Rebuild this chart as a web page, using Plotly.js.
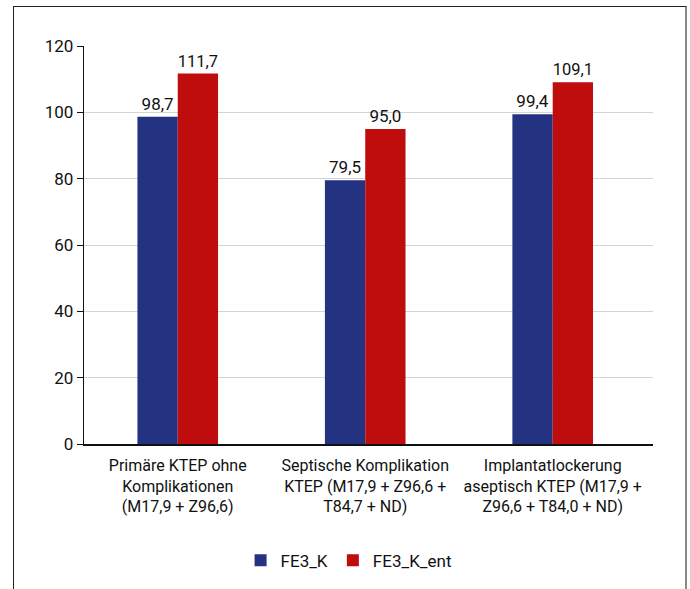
<!DOCTYPE html>
<html>
<head>
<meta charset="utf-8">
<script src="https://cdn.plot.ly/plotly-3.0.1.min.js"></script>
<style>
  html, body { margin: 0; padding: 0; background: #fff; }
  #wrap { position: relative; width: 690px; height: 589px; }
  #frame {
    position: absolute; left: 13px; top: 6px; width: 671px; height: 600px;
    border-left: 1px solid #222; border-top: 1px solid #222; border-right: 2px solid #888;
    pointer-events: none;
  }
  #chart { position: absolute; left: 0; top: 0; width: 690px; height: 589px; }
</style>
</head>
<body>
<div id="wrap">
  <div id="chart"></div>
  <div id="frame"></div>
</div>
<script>
// Kategorien (Diagnosegruppen) und Werte beider Reihen
const categories = [
  'Primäre KTEP ohne<br>Komplikationen<br>(M17,9 + Z96,6)',
  'Septische Komplikation<br>KTEP (M17,9 + Z96,6 +<br>T84,7 + ND)',
  'Implantatlockerung<br>aseptisch KTEP (M17,9 +<br>Z96,6 + T84,0 + ND)'
];
const seriesNames = ['FE3_K', 'FE3_K_ent'];
const fe3K = [98.7, 79.5, 99.4];
const fe3KEnt = [111.7, 95.0, 109.1];
const yTicks = [0, 20, 40, 60, 80, 100, 120];

const FONT = 'Roboto, "Liberation Sans", Arial, sans-serif';

function barTrace(name, values, color) {
  return {
    type: 'bar',
    name: name,
    x: categories,
    y: values,
    marker: { color: color, line: { width: 0 } },
    texttemplate: '%{y:.1f}',
    textposition: 'outside',
    cliponaxis: false,
    textfont: { family: FONT, size: 17, color: '#111' },
    hoverinfo: 'skip'
  };
}

const data = [
  barTrace(seriesNames[0], fe3K, '#243282'),
  barTrace(seriesNames[1], fe3KEnt, '#bf0d0e')
];

const layout = {
  width: 690,
  height: 589,
  margin: { l: 84, r: 37, t: 46, b: 144 },
  paper_bgcolor: '#fff',
  plot_bgcolor: '#fff',
  separators: ',.',
  font: { family: FONT, size: 16, color: '#111' },
  barmode: 'group',
  bargap: 0.57,
  bargroupgap: 0,
  showlegend: true,
  legend: {
    orientation: 'h',
    x: 0.465, xanchor: 'center',
    y: -0.29, yanchor: 'middle',
    font: { family: FONT, size: 17, color: '#111' },
    itemwidth: 30,
    traceorder: 'normal'
  },
  xaxis: {
    type: 'category',
    range: [-0.5, 2.535],
    showline: true,
    linecolor: '#111',
    linewidth: 1.5,
    ticks: '',
    ticklabelstandoff: 6,
    showgrid: false,
    tickfont: { family: FONT, size: 16, color: '#111' },
    fixedrange: true
  },
  yaxis: {
    range: [0, 120],
    tickvals: yTicks,
    ticktext: yTicks.map(String),
    showline: true,
    linecolor: '#111',
    linewidth: 1.2,
    ticks: 'outside',
    ticklen: 6,
    tickcolor: '#111',
    showgrid: true,
    gridcolor: '#d4d4d4',
    gridwidth: 1,
    zeroline: false,
    tickfont: { family: FONT, size: 17, color: '#111' },
    fixedrange: true
  }
};

Plotly.newPlot('chart', data, layout, { staticPlot: true, displayModeBar: false });
</script>
</body>
</html>
